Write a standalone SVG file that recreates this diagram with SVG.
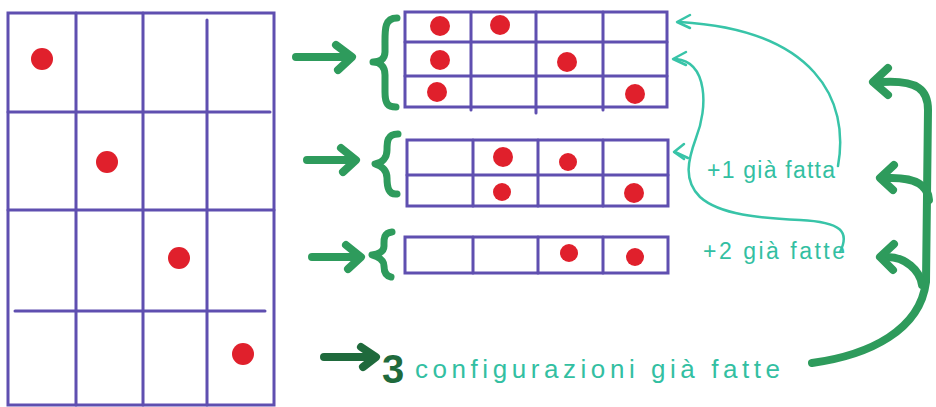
<svg xmlns="http://www.w3.org/2000/svg" width="936" height="407" viewBox="0 0 936 407">
<style>
.grid{fill:none;stroke:#5f4fb0;stroke-width:3;stroke-linecap:round}
.dot{fill:#e0202c}
.garrow{fill:none;stroke:#2e9b5c;stroke-width:8;stroke-linecap:round;stroke-linejoin:round}
.dgarrow{fill:none;stroke:#1f6a3c;stroke-width:8;stroke-linecap:round;stroke-linejoin:round}
.brace{fill:none;stroke:#2e9b5c;stroke-width:7;stroke-linecap:round;stroke-linejoin:round}
.cyan{fill:none;stroke:#38c4a8;stroke-width:2.5;stroke-linecap:round;stroke-linejoin:round}
.txt{font-family:"Liberation Sans",Arial,sans-serif;fill:#33bfa2}
</style>
<rect width="936" height="407" fill="#ffffff"/>

<g id="big-grid">
  <rect class="grid" x="8" y="13" width="266" height="392"/>
  <path class="grid" d="M76 13V405M143 13V405M207 20V405M8 112H270M8 210H274M15 311H265"/>
  <circle class="dot" cx="42" cy="59" r="11"/>
  <circle class="dot" cx="107" cy="162" r="11"/>
  <circle class="dot" cx="179" cy="258" r="11"/>
  <circle class="dot" cx="243" cy="354" r="11"/>
</g>

<g id="grid-top">
  <rect class="grid" x="405" y="12" width="262" height="95"/>
  <path class="grid" d="M471 12V110M536 12V113M603 12V110M405 42H667M405 76H667"/>
  <circle class="dot" cx="440" cy="26" r="10"/>
  <circle class="dot" cx="500" cy="25" r="10"/>
  <circle class="dot" cx="440" cy="60" r="10"/>
  <circle class="dot" cx="567" cy="62" r="10"/>
  <circle class="dot" cx="437" cy="92" r="10"/>
  <circle class="dot" cx="635" cy="94" r="10"/>
</g>

<g id="grid-middle">
  <rect class="grid" x="407" y="140" width="261" height="66"/>
  <path class="grid" d="M473 140V206M538 140V206M603 140V206M407 175H668"/>
  <circle class="dot" cx="503" cy="157" r="10"/>
  <circle class="dot" cx="568" cy="162" r="9"/>
  <circle class="dot" cx="502" cy="192" r="9"/>
  <circle class="dot" cx="634" cy="193" r="10"/>
</g>

<g id="grid-bottom">
  <rect class="grid" x="405" y="237" width="263" height="36"/>
  <path class="grid" d="M473 237V273M538 237V273M603 237V273"/>
  <circle class="dot" cx="569" cy="253" r="9"/>
  <circle class="dot" cx="635" cy="257" r="9"/>
</g>

<g id="braces">
  <path class="brace" d="M397 18C384 18 385 30 385 45L385 52C385 60 379 62 373 62C379 62 385 65 385 75L385 92C385 104 388 107 396 107"/>
  <path class="brace" d="M398 134C387 134 387 142 387 150C387 158 382 163 375 164C382 166 387 170 387 178C387 188 389 195 397 194"/>
  <path class="brace" d="M392 232C383 233 384 240 384 246C384 251 379 254 372 255C379 257 384 260 384 266C384 272 386 276 391 277"/>
</g>

<g id="connectors">
  <path class="garrow" d="M296 57H350M336 45L352 57L338 70"/>
  <path class="garrow" d="M307 160H354M341 148L356 160L343 172"/>
  <path class="garrow" d="M312 257H359M346 245L361 257L348 269"/>
  <path class="dgarrow" d="M324 357H374M361 347L376 357L363 367"/>

  <path class="cyan" d="M838 166C850 100 815 30 680 22"/>
  <path class="cyan" d="M690 15L677 22L690 28"/>
  <path class="cyan" d="M840 252C850 232 842 222 800 220C760 218 720 215 700 197C683 180 688 160 696 138C708 108 708 62 676 59"/>
  <path class="cyan" d="M686 52L673 59L686 65"/>
  <path class="cyan" d="M688 158L675 152"/>
  <path class="cyan" d="M684 144L674 152L684 159"/>

  <path class="garrow" d="M812 363C870 355 920 330 926 282L928 110C928 90 918 80 882 82"/>
  <path class="garrow" d="M888 68L873 82L888 95"/>
  <path class="garrow" d="M929 200C928 185 915 177 887 178"/>
  <path class="garrow" d="M894 165L880 178L893 190"/>
  <path class="garrow" d="M922 285C920 270 905 257 887 257"/>
  <path class="garrow" d="M894 244L880 257L893 270"/>
</g>

<g id="labels">
  <text class="txt" x="707" y="178" font-size="23" textLength="128" lengthAdjust="spacing">+1 già fatta</text>
  <text class="txt" x="703" y="259" font-size="23" textLength="142" lengthAdjust="spacing">+2 già fatte</text>
  <text x="382" y="383" font-family="Liberation Sans,Arial,sans-serif" font-weight="bold" font-size="40" fill="#1f6a3c">3</text>
  <text class="txt" x="415" y="378" font-size="26" textLength="365" lengthAdjust="spacing">configurazioni già fatte</text>
</g>
</svg>
